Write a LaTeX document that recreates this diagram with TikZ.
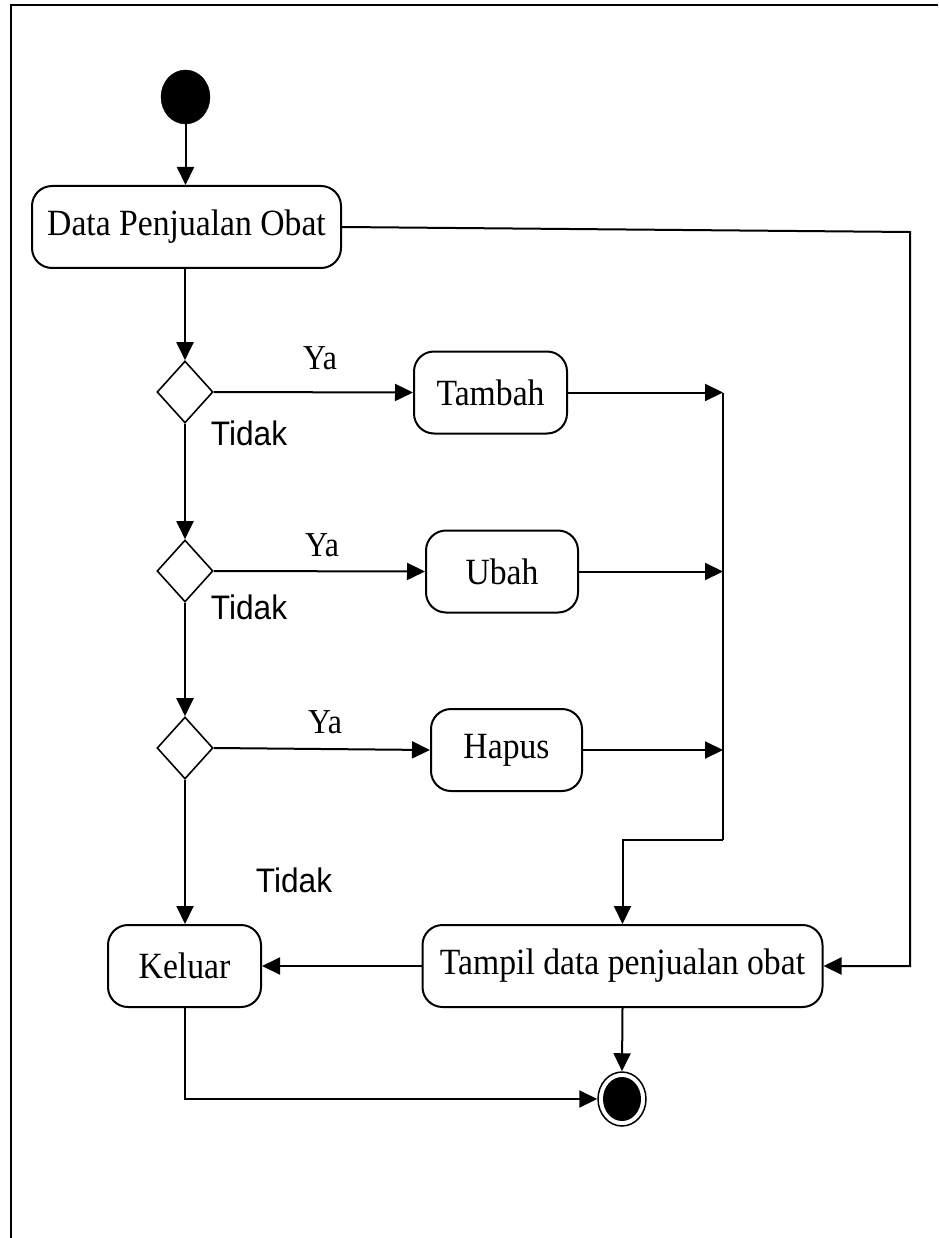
\documentclass[tikz,border=0pt]{standalone}
\usepackage{fontspec}
\usetikzlibrary{shapes.geometric,arrows.meta}
\newfontfamily\actfont[FakeStretch=0.91]{Liberation Serif}
\newfontfamily\labfont[FakeStretch=0.93]{Liberation Sans}
\begin{document}
\begin{tikzpicture}[x=1pt,y=-1pt,
  act/.style={draw,line width=2pt,rounded corners=20pt,minimum height=82pt,
    inner sep=0pt,font=\actfont\fontsize{37}{40}\selectfont},
  decision/.style={draw,line width=1.6pt,diamond,minimum width=56pt,
    minimum height=62pt,inner sep=0pt},
  flow/.style={line width=2pt},
  arr/.style={flow,-{Triangle[length=18pt,width=17pt]}},
  yes/.style={font=\actfont\fontsize{35}{38}\selectfont},
  no/.style={font=\labfont\fontsize{34}{38}\selectfont}]
\useasboundingbox (0,0) rectangle (938,1238);
% frame
\draw[line width=2.2pt] (11,1238) -- (11,5) -- (938,5);

% start and end
\node[draw,fill=black,ellipse,minimum width=49pt,minimum height=54pt,inner sep=0pt] (start) at (185.5,97) {};
\node[draw,line width=1.5pt,ellipse,minimum width=48pt,minimum height=54pt,inner sep=0pt] (stop) at (622,1099) {};
\node[fill=black,ellipse,minimum width=38pt,minimum height=44pt,inner sep=0pt] (stopdot) at (stop) {};

% activities
\node[act,minimum width=309pt] (data) at (186.5,227) {Data Penjualan Obat};
\node[act,minimum width=153pt] (tambah) at (490.5,392.5) {Tambah};
\node[act,minimum width=152pt] (ubah) at (502,571.5) {Ubah};
\node[act,minimum width=151pt] (hapus) at (506.5,750) {Hapus};
\node[act,minimum width=153pt] (keluar) at (184.5,966) {Keluar};
\node[act,minimum width=400pt] (tampil) at (622.5,966) {Tampil data penjualan obat};

% decisions
\node[decision] (d1) at (185,392) {};
\node[decision] (d2) at (185,571) {};
\node[decision] (d3) at (185,748) {};

% labels
\node[yes] (ya1) at (320,358) {Ya};
\node[yes] (ya2) at (322,545) {Ya};
\node[yes] (ya3) at (325,722) {Ya};
\node[no] (t1) at (249,433) {Tidak};
\node[no] (t2) at (249,607) {Tidak};
\node[no] (t3) at (294,880) {Tidak};

% merge points
\coordinate (m1) at (723,392.5);
\coordinate (m2) at (723,571.5);
\coordinate (m3) at (723,750);
\coordinate (mb) at (723,840);
\coordinate (mc) at (622.5,840);
\coordinate (r1) at (910,232);
\coordinate (r2) at (910,966);
\coordinate (kb) at (keluar.south |- stop.west);

% connectors
\draw[arr] (start) -- (data.north -| start);
\draw[arr] (data.south -| d1) -- (d1.north);
\draw[arr] (d1.south) -- (d2.north);
\draw[arr] (d2.south) -- (d3.north);
\draw[arr] (d3.south) -- (keluar.north -| d3);
\draw[arr] (d1.east) -- (tambah.west);
\draw[arr] (d2.east) -- (ubah.west);
\draw[arr] (d3.east) -- (hapus.west);
\draw[arr] (tambah.east) -- (m1);
\draw[arr] (ubah.east) -- (m2);
\draw[arr] (hapus.east) -- (m3);
\draw[flow] (m1) -- (mb);
\draw[arr] (mb) -- (mc) -- (tampil.north);
\draw[arr] (data.east) -- (r1) -- (r2) -- (tampil.east);
\draw[arr] (tampil.west) -- (keluar.east);
\draw[arr] (tampil.south) -- (stop.north);
\draw[arr] (keluar.south) -- (kb) -- (stop.west);
\end{tikzpicture}
\end{document}
